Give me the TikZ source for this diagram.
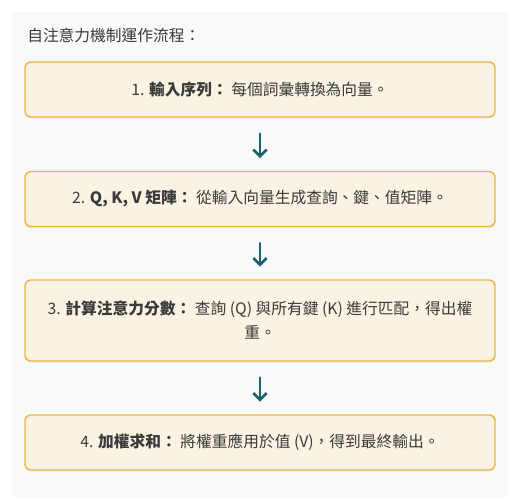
\documentclass[tikz,border=0pt]{standalone}
\usepackage{fontspec}
\setmainfont{Noto Sans CJK TC}
\usetikzlibrary{arrows.meta,shadows}
\definecolor{bgpanel}{HTML}{F8F9FA}
\definecolor{stepfill}{HTML}{FAF3E3}
\definecolor{stepline}{HTML}{EDB545}
\definecolor{flowteal}{HTML}{1D6170}
\definecolor{inktext}{HTML}{3A3A3A}
\tikzset{
	stepbox/.style={draw=stepline,fill=stepfill,line width=1.1pt,rounded corners=4.5pt,
		minimum width=352.5pt,minimum height=41.25pt,align=center,text=inktext,
		drop shadow={opacity=0.12,shadow xshift=0pt,shadow yshift=-1.2pt}},
	flow/.style={draw=flowteal,line width=2pt,-{Straight Barb[length=5pt,width=10pt,line width=2pt]},
		shorten <=12pt,shorten >=9.5pt}
}
\begin{document}
\begin{tikzpicture}[x=0.75pt,y=-0.75pt,line join=round,line cap=round,font=\fontsize{11.8pt}{18pt}\selectfont]
	\useasboundingbox (0,0) rectangle (517,502);
	\fill[bgpanel] (12,12) rectangle (508,497);
	\node[anchor=west,text=inktext,inner sep=0pt] (title) at (27,35) {自注意力機制運作流程：};
	\node[stepbox] (s1) at (260,89.5) {1. \textbf{輸入序列：} 每個詞彙轉換為向量。};
	\node[stepbox] (s2) at (260,199) {2. \textbf{Q, K, V 矩陣：} 從輸入向量生成查詢、鍵、值矩陣。};
	\node[stepbox,minimum height=60.75pt] (s3) at (260,320.5) {3. \textbf{計算注意力分數：} 查詢 (Q) 與所有鍵 (K) 進行匹配，得出權\\重。};
	\node[stepbox] (s4) at (260,442.5) {4. \textbf{加權求和：} 將權重應用於值 (V)，得到最終輸出。};
	\draw[flow] (s1.south) -- (s2.north);
	\draw[flow] (s2.south) -- (s3.north);
	\draw[flow] (s3.south) -- (s4.north);
\end{tikzpicture}
\end{document}
